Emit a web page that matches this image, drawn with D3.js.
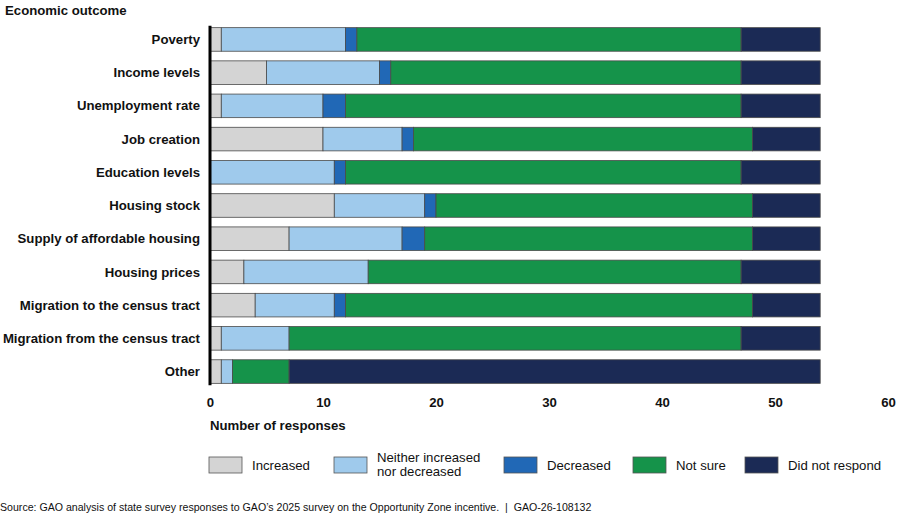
<!DOCTYPE html>
<html>
<head>
<meta charset="utf-8">
<script src="https://cdn.jsdelivr.net/npm/d3@7"></script>
<style>
  body { margin: 0; background: #fff; }
  svg { font-family: Arial, 'Liberation Sans', sans-serif; }
</style>
</head>
<body>
<div id="chart"></div>
<script>
// Chart data
const categories = ['Poverty', 'Income levels', 'Unemployment rate', 'Job creation', 'Education levels',
  'Housing stock', 'Supply of affordable housing', 'Housing prices', 'Migration to the census tract',
  'Migration from the census tract', 'Other']
const increased = [1, 5, 1, 10, 0, 11, 7, 3, 4, 1, 1]
const neither = [11, 10, 9, 7, 11, 8, 10, 11, 7, 6, 1]
const decreased = [1, 1, 2, 1, 1, 1, 2, 0, 1, 0, 0]
const notSure = [34, 31, 35, 30, 35, 28, 29, 33, 36, 40, 5]
const noResponse = [7, 7, 7, 6, 7, 6, 6, 7, 6, 7, 47]
const xTicks = [0, 10, 20, 30, 40, 50, 60]
const seriesKeys = ['Increased', 'Neither increased nor decreased', 'Decreased', 'Not sure', 'Did not respond']
const seriesValues = [increased, neither, decreased, notSure, noResponse]
const seriesColors = ['#d4d4d4', '#9fcaec', '#2168b6', '#15934a', '#1b2a55']

const width = 900
const height = 516
const margin = { top: 23, right: 12, bottom: 128, left: 210 }
const innerW = width - margin.left - margin.right
const innerH = height - margin.top - margin.bottom
const fontSize = '13.2px'

const svg = d3.select('#chart')
  .append('svg')
  .attr('width', width)
  .attr('height', height)

// **Table for the stack**
const table = categories.map((c, i) => {
  const row = { category: c }
  seriesKeys.forEach((k, j) => { row[k] = seriesValues[j][i] })
  return row
})
const stacked = d3.stack().keys(seriesKeys)(table)

const x = d3.scaleLinear().domain([0, 60]).range([0, innerW])
const y = d3.scaleBand().domain(categories).range([0, innerH]).paddingInner(0.29).paddingOuter(0.14)
const color = d3.scaleOrdinal().domain(seriesKeys).range(seriesColors)

const g = svg.append('g').attr('transform', `translate(${margin.left},${margin.top})`)

// **Bars**
g.selectAll('g.layer')
  .data(stacked)
  .join('g')
  .attr('class', 'layer')
  .attr('fill', d => color(d.key))
  .selectAll('rect')
  .data(d => d.filter(s => s[1] - s[0] > 0))
  .join('rect')
  .attr('x', d => x(d[0]))
  .attr('y', d => y(d.data.category))
  .attr('width', d => x(d[1]) - x(d[0]))
  .attr('height', y.bandwidth())
  .attr('stroke', '#4a4a4a')
  .attr('stroke-width', 0.8)

// **Vertical axis line**
g.append('line')
  .attr('x1', 0).attr('x2', 0)
  .attr('y1', y(categories[0]) - 2)
  .attr('y2', y(categories[categories.length - 1]) + y.bandwidth() + 2)
  .attr('stroke', '#000')
  .attr('stroke-width', 3)

// **Category labels**
g.selectAll('text.cat')
  .data(categories)
  .join('text')
  .attr('class', 'cat')
  .attr('x', -10)
  .attr('y', d => y(d) + y.bandwidth() / 2)
  .attr('dy', '0.35em')
  .attr('text-anchor', 'end')
  .style('font-size', fontSize)
  .style('font-weight', 'bold')
  .style('fill', '#111')
  .text(d => d)

// **X axis tick labels**
const xAxis = g.append('g')
  .attr('transform', `translate(0,${innerH})`)
  .call(d3.axisBottom(x).tickValues(xTicks).tickSize(0).tickPadding(10))
xAxis.select('.domain').remove()
xAxis.selectAll('text')
  .style('font-size', fontSize)
  .style('font-weight', 'bold')
  .style('font-family', 'Arial, "Liberation Sans", sans-serif')
  .style('fill', '#111')

// **Titles**
svg.append('text')
  .attr('x', 5)
  .attr('y', 15)
  .style('font-size', fontSize)
  .style('font-weight', 'bold')
  .style('fill', '#111')
  .text('Economic outcome')

svg.append('text')
  .attr('x', 210)
  .attr('y', 430)
  .style('font-size', fontSize)
  .style('font-weight', 'bold')
  .style('fill', '#111')
  .text('Number of responses')

// **Legend**
const legendX = [209, 334, 504, 633, 745]
const legend = svg.append('g')
seriesKeys.forEach((k, i) => {
  const row = legend.append('g').attr('transform', `translate(${legendX[i]},457)`)
  row.append('rect')
    .attr('width', 33)
    .attr('height', 16)
    .attr('fill', color(k))
    .attr('stroke', '#555')
    .attr('stroke-width', 0.8)
  const t = row.append('text')
    .attr('x', 43)
    .attr('y', 8)
    .style('font-size', fontSize)
    .style('fill', '#111')
  if (k === 'Neither increased nor decreased') {
    t.append('tspan').attr('x', 43).attr('dy', '-0.2em').text('Neither increased')
    t.append('tspan').attr('x', 43).attr('dy', '1.05em').text('nor decreased')
  } else {
    t.attr('dy', '0.35em').text(k)
  }
})

// **Source note**
svg.append('text')
  .attr('x', 0)
  .attr('y', 511)
  .style('font-size', '10.6px')
  .style('fill', '#111')
  .style('white-space', 'pre')
  .text('Source: GAO analysis of state survey responses to GAO\u2019s 2025 survey on the Opportunity Zone incentive.  |  GAO-26-108132')
</script>
</body>
</html>
